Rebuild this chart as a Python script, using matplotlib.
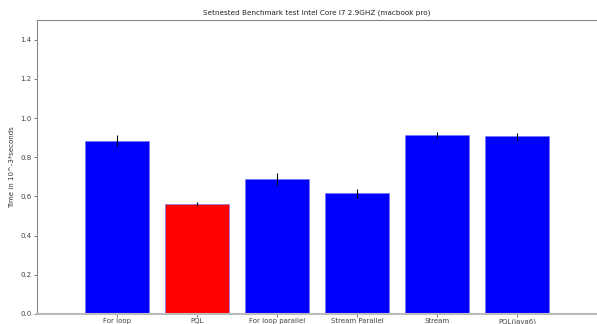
import numpy as np
import matplotlib
matplotlib.use("Agg")
import matplotlib.pyplot as plt

labels = ["For loop", "PQL", "For loop parallel", "Stream Parallel", "Stream", "PQL(java6)"]
times = [0.884, 0.562, 0.691, 0.615, 0.913, 0.906]
errors = [0.027, 0.012, 0.031, 0.021, 0.016, 0.016]
colors = ["blue", "red", "blue", "blue", "blue", "blue"]

fig = plt.figure(figsize=(5.97, 3.24), dpi=100)
ax = fig.add_axes([0.062, 0.031, 0.938, 0.907])

x = np.arange(len(labels))
ax.bar(x, times, width=0.8, color=colors, edgecolor="#6f6fff", linewidth=0.4,
       yerr=errors, error_kw=dict(ecolor="black", elinewidth=0.8, capsize=0))

ax.set_xlim(-1, 6)
ax.set_ylim(0, 1.5)
ax.set_xticks(x)
ax.set_xticklabels(labels)
ax.set_yticks(np.arange(0, 1.41, 0.2))
ax.tick_params(labelsize=5, colors="#444444", length=2, width=0.5)
ax.tick_params(axis="x", pad=1)
ax.tick_params(axis="y", pad=2)
ax.set_ylabel("Time in 10^-3*seconds", fontsize=5, color="#333333", labelpad=4)
ax.set_title("Setnested Benchmark test Intel Core i7 2.9GHZ (macbook pro)", fontsize=5.2, color="#222222", pad=4)

for side in ["left", "top"]:
    ax.spines[side].set_color("#888888")
    ax.spines[side].set_linewidth(0.8)
ax.spines["right"].set_visible(False)
ax.spines["bottom"].set_color("#bbbbbb")
ax.spines["bottom"].set_linewidth(1.5)

fig.savefig("out.png", dpi=100)
